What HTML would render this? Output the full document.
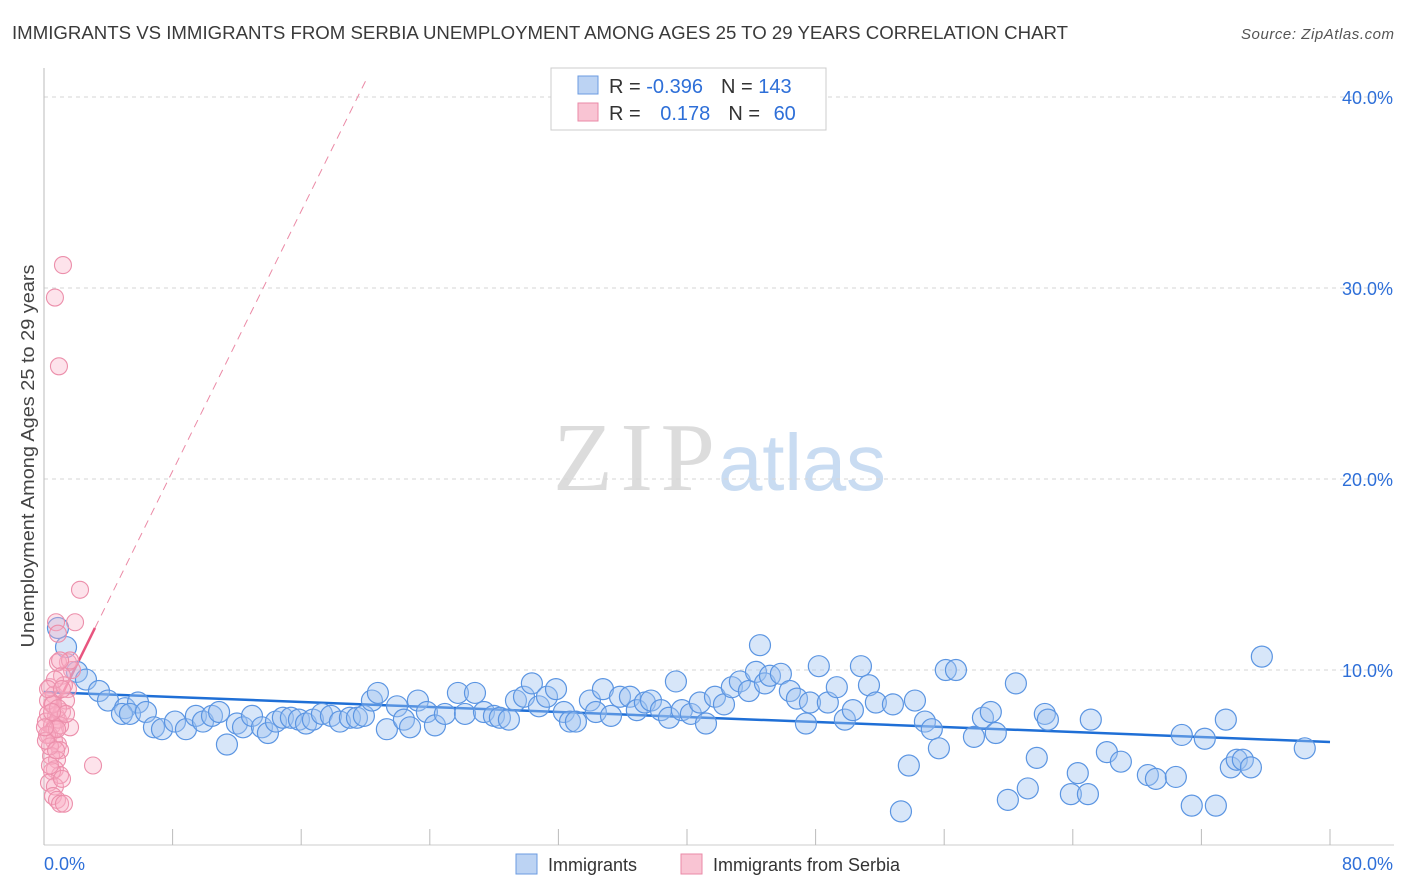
<!DOCTYPE html>
<html><head><meta charset="utf-8"><style>
body{margin:0;background:#fff;font-family:"Liberation Sans",sans-serif}
svg{display:block}
</style></head><body>
<svg id="chart" width="1406" height="892" xmlns="http://www.w3.org/2000/svg" font-family="Liberation Sans, sans-serif">
<text x="12" y="39" font-size="18" fill="#3a3a3a" textLength="1056" lengthAdjust="spacingAndGlyphs">IMMIGRANTS VS IMMIGRANTS FROM SERBIA UNEMPLOYMENT AMONG AGES 25 TO 29 YEARS CORRELATION CHART</text>
<text x="1394" y="39" font-size="15" fill="#555" font-style="italic" text-anchor="end" textLength="153">Source: ZipAtlas.com</text>
<g>
<text x="553" y="490" font-family="Liberation Serif, serif" font-size="98" fill="#dcdcdc" textLength="162">ZIP</text>
<text x="718" y="490" font-size="80" fill="#c9dcf2" textLength="168">atlas</text>
</g>
<g id="grid"></g>
<g id="axes"></g>
<g id="trend"></g>
<g id="pts"></g>
<text transform="translate(34,456) rotate(-90)" font-size="18" fill="#444" text-anchor="middle" textLength="383" lengthAdjust="spacingAndGlyphs">Unemployment Among Ages 25 to 29 years</text>
<g>
<rect x="551" y="68" width="275" height="62" fill="#fff" stroke="#ccc"/>
<rect x="578" y="76" width="20" height="18" fill="#bcd3f3" stroke="#6b9be0"/>
<rect x="578" y="103" width="20" height="18" fill="#f9c4d3" stroke="#ea8aa7"/>
<text x="609" y="93" font-size="20" fill="#333">R = <tspan fill="#2e6fd8">-0.396</tspan><tspan dx="18" fill="#333">N = </tspan><tspan fill="#2e6fd8">143</tspan></text>
<text x="609" y="120" font-size="20" fill="#333">R = <tspan dx="14" fill="#2e6fd8">0.178</tspan><tspan dx="18" fill="#333">N = </tspan><tspan dx="8" fill="#2e6fd8">60</tspan></text>
</g>
<g>
<rect x="516" y="854" width="21" height="20" fill="#bcd3f3" stroke="#6b9be0"/>
<text x="548" y="871" font-size="18" fill="#333">Immigrants</text>
<rect x="681" y="854" width="21" height="20" fill="#f9c4d3" stroke="#ea8aa7"/>
<text x="713" y="871" font-size="18" fill="#333">Immigrants from Serbia</text>
</g>
</svg>
<script>
const yTicks=[10,20,30,40];
const yTickLabels=["10.0%","20.0%","30.0%","40.0%"];
const xTicks=[0,8,16,24,32,40,48,56,64,72,80];
const xEndLabels=["0.0%","80.0%"];
const blueX=[0.87,1.37,2.05,2.61,3.42,3.98,5.04,5.85,4.85,5.35,6.34,6.84,7.34,8.15,8.83,9.45,9.89,10.45,10.89,11.38,12.0,12.38,12.94,13.56,13.93,14.43,14.86,15.36,15.86,16.3,16.73,17.29,17.85,18.41,19.03,19.47,19.9,20.4,20.77,21.33,21.96,22.39,22.77,23.26,23.82,24.32,24.94,25.75,26.19,26.81,27.37,27.99,28.36,28.92,29.36,29.86,30.35,30.79,31.29,31.85,32.34,32.72,33.09,33.96,34.33,34.77,35.27,35.83,36.45,36.88,37.38,37.76,38.38,38.88,39.31,39.68,40.24,40.8,41.18,41.74,42.3,42.79,43.29,43.85,44.29,44.54,44.85,45.16,45.84,46.4,46.84,47.4,47.65,48.2,48.76,49.32,49.82,50.32,50.82,51.32,51.75,52.81,53.31,53.8,54.18,54.8,55.23,55.67,56.1,56.73,57.85,58.41,58.9,59.21,59.96,60.46,61.2,61.76,62.26,62.45,63.88,64.31,64.94,65.12,66.12,66.99,68.67,69.17,70.41,70.78,71.4,72.21,72.9,73.52,73.83,74.2,74.58,75.08,75.76,78.43];
const blueY=[12.2,11.2,9.9,9.5,8.9,8.4,8.0,8.3,7.7,7.7,7.8,7.0,6.9,7.3,6.9,7.6,7.3,7.6,7.8,6.1,7.2,7.0,7.6,7.0,6.7,7.3,7.5,7.5,7.4,7.2,7.4,7.7,7.6,7.3,7.5,7.5,7.6,8.4,8.8,6.9,8.1,7.4,7.0,8.4,7.8,7.1,7.7,8.8,7.7,8.8,7.8,7.6,7.5,7.4,8.4,8.6,9.3,8.1,8.6,9.0,7.8,7.3,7.3,8.4,7.8,9.0,7.6,8.6,8.6,7.9,8.3,8.4,7.9,7.5,9.4,7.9,7.7,8.3,7.2,8.6,8.2,9.1,9.4,8.9,9.9,11.3,9.3,9.7,9.8,8.9,8.5,7.2,8.3,10.2,8.3,9.1,7.4,7.9,10.2,9.2,8.3,8.2,2.6,5.0,8.4,7.3,6.9,5.9,10.0,10.0,6.5,7.5,7.8,6.7,3.2,9.3,3.8,5.4,7.7,7.4,3.5,4.6,3.5,7.4,5.7,5.2,4.5,4.3,4.4,6.6,2.9,6.4,2.9,7.4,4.9,5.3,5.3,4.9,10.7,5.9];
const pinkX=[1.18,0.68,0.93,2.24,1.93,0.75,0.87,1.49,0.87,1.74,1.12,0.37,0.62,1.49,0.5,0.25,0.75,0.12,0.5,0.68,0.31,0.62,0.87,1.0,0.44,0.81,1.62,1.12,1.37,0.68,1.0,0.5,0.31,0.68,1.12,0.56,0.81,1.0,1.24,3.05,0.19,0.87,0.37,0.25,1.24,0.68,0.56,0.87,1.0,0.12,0.37,0.75,1.37,0.25,1.12,0.81,0.5,1.62,0.06,1.0];
const pinkY=[31.2,29.5,25.9,14.2,12.5,12.5,11.9,10.4,10.4,10.0,9.7,9.1,8.7,9.0,8.2,7.7,7.6,7.3,7.1,6.9,6.6,6.3,6.1,5.8,5.5,5.3,7.0,7.8,8.4,4.8,4.5,4.7,4.1,3.9,4.3,3.4,3.2,3.0,3.0,5.0,6.6,7.4,6.0,8.4,9.2,9.5,8.2,8.0,7.1,6.3,5.0,5.8,7.7,9.0,9.0,6.9,7.8,10.5,7.0,10.5];
const blueTrend=[[0,8.85],[80,6.23]];
const pinkTrendSolid=[[0,6.8],[3.17,12.2]];
const pinkTrendDash=[[3.17,12.2],[20.1,41.0]];

const NS="http://www.w3.org/2000/svg";
const X0=44,X1=1330,Y0=861,PXPER=19.1;
function sx(v){return X0+(X1-X0)*v/80;}
function sy(v){return Y0-v*PXPER;}
function mk(tag,parent,attrs){const e=document.createElementNS(NS,tag);for(const k in attrs)e.setAttribute(k,attrs[k]);parent.appendChild(e);return e;}
const grid=document.getElementById('grid'),axes=document.getElementById('axes'),trend=document.getElementById('trend'),pts=document.getElementById('pts');
yTicks.forEach((t,i)=>{
  const l=mk('line',grid,{x1:44,x2:1394,y1:sy(t),y2:sy(t),stroke:'#d6d6d6','stroke-dasharray':'4,4'});
  
  
  const tx=mk('text',axes,{x:1393,y:sy(t)+7,'font-size':18,fill:'#2e6fd8','text-anchor':'end'});
  tx.textContent=yTickLabels[i];
  
  
});
const al=mk('line',axes,{x1:44,x2:44,y1:68,y2:845,stroke:'#bbb'});


const bl=mk('line',axes,{x1:44,x2:1394,y1:845,y2:845,stroke:'#ccc'});


xTicks.forEach(t=>{
  const l=mk('line',axes,{x1:sx(t),x2:sx(t),y1:829,y2:845,stroke:'#bbb'});
  
  
});
const xl0=mk('text',axes,{x:44,y:870,'font-size':18,fill:'#2e6fd8'});
xl0.textContent=xEndLabels[0];


const xl1=mk('text',axes,{x:1393,y:870,'font-size':18,fill:'#2e6fd8','text-anchor':'end'});
xl1.textContent=xEndLabels[1];



blueX.forEach((v,i)=>{
  const c=mk('circle',pts,{cx:sx(v),cy:sy(blueY[i]),r:10.5,fill:'rgba(160,196,240,0.42)',stroke:'#5b95e2','stroke-width':1.2});
  
  
});
pinkX.forEach((v,i)=>{
  const c=mk('circle',pts,{cx:sx(v),cy:sy(pinkY[i]),r:8.5,fill:'rgba(248,176,198,0.35)',stroke:'#ec8fab','stroke-width':1.1});
  
  
});
const bt=mk('line',trend,{x1:sx(blueTrend[0][0]),y1:sy(blueTrend[0][1]),x2:sx(blueTrend[1][0]),y2:sy(blueTrend[1][1]),stroke:'#1f6fd6','stroke-width':2.5});


const pt=mk('line',trend,{x1:sx(pinkTrendSolid[0][0]),y1:sy(pinkTrendSolid[0][1]),x2:sx(pinkTrendSolid[1][0]),y2:sy(pinkTrendSolid[1][1]),stroke:'#e8557f','stroke-width':2.5});


const pd=mk('line',trend,{x1:sx(pinkTrendDash[0][0]),y1:sy(pinkTrendDash[0][1]),x2:sx(pinkTrendDash[1][0]),y2:sy(pinkTrendDash[1][1]),stroke:'#eb8aa6','stroke-width':1,'stroke-dasharray':'8,6'});


</script>
</body></html>
